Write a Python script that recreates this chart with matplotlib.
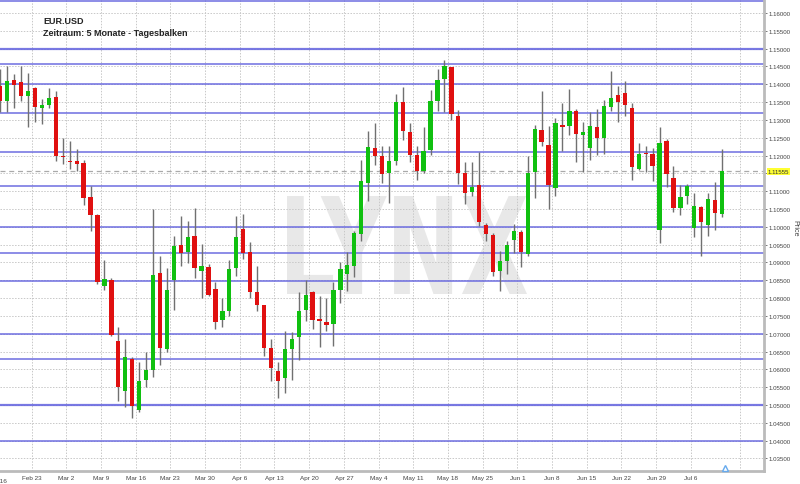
import matplotlib
matplotlib.use('Agg')
import matplotlib.pyplot as plt
from matplotlib.textpath import TextPath
from matplotlib.patches import PathPatch
from matplotlib.font_manager import FontProperties
from matplotlib.transforms import Affine2D
import numpy as np

title = "EUR.USD"
subtitle = "Zeitraum: 5 Monate - Tagesbalken"
week_labels = ["Feb 16", "Feb 23", "Mar 2", "Mar 9", "Mar 16", "Mar 23", "Mar 30", "Apr 6",
               "Apr 13", "Apr 20", "Apr 27", "May 4", "May 11", "May 18", "May 25", "Jun 1",
               "Jun 8", "Jun 15", "Jun 22", "Jun 29", "Jul 6"]

opens = [1.1396, 1.1352, 1.1413, 1.1407, 1.1366, 1.1389, 1.1334, 1.1343, 1.1365, 1.1200,
         1.1185, 1.1185, 1.1178, 1.1084, 1.1033, 1.0833, 1.0851, 1.0680, 1.0540, 1.0629,
         1.0486, 1.0570, 1.0599, 1.0870, 1.0657, 1.0852, 1.0949, 1.0930, 1.0973, 1.0875,
         1.0888, 1.0825, 1.0738, 1.0765, 1.0884, 1.0994, 1.0928, 1.0816, 1.0781, 1.0660,
         1.0595, 1.0575, 1.0657, 1.0690, 1.0767, 1.0818, 1.0741, 1.0732, 1.0727, 1.0824,
         1.0868, 1.0889, 1.0980, 1.1123, 1.1220, 1.1198, 1.1150, 1.1185, 1.1349, 1.1265,
         1.1202, 1.1157, 1.1216, 1.1354, 1.1415, 1.1448, 1.1312, 1.1150, 1.1097, 1.1117,
         1.1005, 1.0977, 1.0877, 1.0905, 1.0964, 1.0986, 1.0924, 1.1153, 1.1272, 1.1230,
         1.1109, 1.1286, 1.1282, 1.1326, 1.1258, 1.1221, 1.1281, 1.1249, 1.1335, 1.1370,
         1.1375, 1.1333, 1.1162, 1.1207, 1.1204, 1.0992, 1.1240, 1.1137, 1.1053, 1.1086,
         1.0997, 1.1056, 1.1006, 1.1075, 1.1036]
highs = [1.1443, 1.1450, 1.1429, 1.1450, 1.1431, 1.1392, 1.1359, 1.1389, 1.1380, 1.1248,
         1.1242, 1.1218, 1.1187, 1.1115, 1.1036, 1.0907, 1.0856, 1.0718, 1.0685, 1.0636,
         1.0620, 1.0650, 1.1050, 1.0919, 1.0884, 1.0973, 1.1029, 1.1015, 1.1053, 1.0952,
         1.0896, 1.0844, 1.0800, 1.0907, 1.1029, 1.1036, 1.0957, 1.0889, 1.0781, 1.0685,
         1.0620, 1.0707, 1.0706, 1.0818, 1.0851, 1.0821, 1.0807, 1.0800, 1.0844, 1.0900,
         1.0930, 1.0989, 1.1188, 1.1268, 1.1291, 1.1226, 1.1226, 1.1373, 1.1391, 1.1291,
         1.1226, 1.1279, 1.1384, 1.1443, 1.1468, 1.1448, 1.1328, 1.1181, 1.1181, 1.1209,
         1.1011, 1.0982, 1.0931, 1.0961, 1.1008, 1.0991, 1.1198, 1.1286, 1.1380, 1.1282,
         1.1305, 1.1347, 1.1387, 1.1331, 1.1293, 1.1321, 1.1331, 1.1356, 1.1436, 1.1396,
         1.1410, 1.1347, 1.1235, 1.1226, 1.1220, 1.1279, 1.1246, 1.1171, 1.1118, 1.1120,
         1.1095, 1.1059, 1.1094, 1.1125, 1.1218]
lows = [1.1322, 1.1323, 1.1333, 1.1354, 1.1279, 1.1295, 1.1288, 1.1333, 1.1184, 1.1176,
        1.1162, 1.1156, 1.1061, 1.0987, 1.0840, 1.0824, 1.0693, 1.0512, 1.0495, 1.0463,
        1.0480, 1.0551, 1.0579, 1.0613, 1.0650, 1.0767, 1.0889, 1.0898, 1.0856, 1.0799,
        1.0806, 1.0713, 1.0718, 1.0749, 1.0863, 1.0910, 1.0800, 1.0765, 1.0638, 1.0568,
        1.0520, 1.0533, 1.0571, 1.0626, 1.0735, 1.0713, 1.0662, 1.0708, 1.0666, 1.0785,
        1.0819, 1.0860, 1.0959, 1.1072, 1.1173, 1.1123, 1.1067, 1.1174, 1.1244, 1.1181,
        1.1131, 1.1150, 1.1202, 1.1326, 1.1323, 1.1300, 1.1120, 1.1064, 1.1087, 1.1003,
        1.0959, 1.0863, 1.0819, 1.0868, 1.0926, 1.0886, 1.0917, 1.1080, 1.1228, 1.1050,
        1.1086, 1.1214, 1.1258, 1.1181, 1.1153, 1.1188, 1.1202, 1.1204, 1.1326, 1.1293,
        1.1310, 1.1132, 1.1159, 1.1153, 1.1129, 1.0955, 1.1111, 1.1042, 1.1033, 1.1064,
        1.0971, 1.0917, 1.0975, 1.0991, 1.1028]
closes = [1.1354, 1.1410, 1.1399, 1.1368, 1.1382, 1.1337, 1.1342, 1.1361, 1.1200, 1.1195,
          1.1181, 1.1176, 1.1080, 1.1033, 1.0846, 1.0854, 1.0696, 1.0550, 1.0636, 1.0498,
          1.0568, 1.0598, 1.0865, 1.0660, 1.0823, 1.0947, 1.0926, 1.0971, 1.0884, 1.0889,
          1.0809, 1.0734, 1.0763, 1.0882, 1.0972, 1.0926, 1.0816, 1.0781, 1.0660, 1.0604,
          1.0568, 1.0657, 1.0685, 1.0763, 1.0809, 1.0739, 1.0737, 1.0725, 1.0824, 1.0882,
          1.0893, 1.0982, 1.1129, 1.1225, 1.1198, 1.1148, 1.1184, 1.1349, 1.1268, 1.1202,
          1.1157, 1.1214, 1.1354, 1.1412, 1.1452, 1.1317, 1.1151, 1.1095, 1.1113, 1.1013,
          1.0980, 1.0874, 1.0905, 1.0949, 1.0987, 1.0928, 1.1150, 1.1274, 1.1239, 1.1118,
          1.1291, 1.1281, 1.1326, 1.1260, 1.1267, 1.1284, 1.1248, 1.1340, 1.1361, 1.1349,
          1.1342, 1.1169, 1.1204, 1.1203, 1.1171, 1.1235, 1.1148, 1.1054, 1.1084, 1.1115,
          1.1058, 1.1013, 1.1078, 1.1038, 1.11555]

support_levels = [1.1634, 1.1500, 1.1457, 1.1400, 1.1319, 1.1211, 1.1115, 1.1000,
                  1.0926, 1.0847, 1.0700, 1.0630, 1.0500, 1.0400]
last_price = 1.11555
y_ticks = [1.035 + 0.005 * k for k in range(26)]

small_font = ['Liberation Sans', 'DejaVu Sans']

fig = plt.figure(figsize=(8, 4.85), dpi=100)
fig.patch.set_facecolor('white')
ax = fig.add_axes([0, 13 / 485, 764 / 800, 472 / 485])
ax.set_facecolor('white')

n = len(opens)
x = np.arange(n)
ax.set_xlim(-0.05, 110.05)
ax.set_ylim(1.03148, 1.16392)

# watermark
fp = FontProperties(family='DejaVu Sans', weight='bold')
tp = TextPath((0, 0), "LYNX", size=100, prop=fp)
ext = tp.get_extents()
bx0, bx1 = 287 / 764, 527 / 764
by0, by1 = (472 - 295) / 472, (472 - 197) / 472
tr = (Affine2D().translate(-ext.x0, -ext.y0)
      .scale((bx1 - bx0) / ext.width, (by1 - by0) / ext.height)
      .translate(bx0, by0)) + ax.transAxes
ax.add_patch(PathPatch(tp, transform=tr, facecolor='#e8e8e8', edgecolor='none', zorder=0))

# grid
for yt in y_ticks:
    ax.axhline(yt, color='#c8c8c8', lw=0.7, ls=(0, (1.5, 1.5)), zorder=1)
week_pos = [5 * k - 0.5 for k in range(len(week_labels))] + [106.6]
for wp in week_pos:
    ax.axvline(wp, color='#c8c8c8', lw=0.7, ls=(0, (1.5, 1.5)), zorder=1)

# support / resistance lines
for lv in support_levels:
    lw = 1.6 if lv in (1.15, 1.05) else 1.2
    ax.axhline(lv, color='#6a6ae0', lw=lw, alpha=0.9, zorder=2)

# last price line
ax.axhline(last_price, color='#aaaaaa', lw=0.9, ls=(0, (4, 3)), zorder=2)

# candles
for i in range(n):
    o, h, l, c = opens[i], highs[i], lows[i], closes[i]
    col = '#10c010' if c >= o else '#e01010'
    ax.vlines(x[i], l, h, color='#707070', lw=1.0, zorder=3)
    body = max(abs(c - o), 0.00012)
    ax.bar(x[i], body, bottom=min(o, c), width=0.62, color=col, edgecolor='none', zorder=4)

# axes styling
ax.yaxis.tick_right()
ax.set_yticks(y_ticks)
ax.set_yticklabels(["" if abs(v - 1.115) < 1e-9 else "%.5f" % v for v in y_ticks])
ax.tick_params(axis='y', labelsize=4.4, colors='#444444', length=2, pad=1.5, width=0.5)
ax.set_xticks([5 * k - 0.5 for k in range(1, len(week_labels))])
ax.set_xticklabels(week_labels[1:])
ax.tick_params(axis='x', labelsize=4.6, colors='#444444', length=0, pad=3)
for lab in ax.get_yticklabels() + ax.get_xticklabels():
    lab.set_family(small_font)
for s in ['top', 'left']:
    ax.spines[s].set_visible(False)
ax.spines['right'].set_color('#bbbbbb')
ax.spines['right'].set_linewidth(2)
ax.spines['bottom'].set_color('#bbbbbb')
ax.spines['bottom'].set_linewidth(2)
ax.text(-0.5, -0.015, week_labels[0], transform=ax.get_xaxis_transform(), ha='center', va='top',
        fontsize=4.6, color='#444444', clip_on=False, family=small_font)

# last price label
ax.text(1.005, last_price, "%.5f" % last_price, transform=ax.get_yaxis_transform(), va='center',
        ha='left', fontsize=4.4, color='#333333', family=small_font,
        bbox=dict(boxstyle='square,pad=0.15', facecolor='#ffff33', edgecolor='none'), clip_on=False)

# price label
fig.text(795 / 800, 1 - 228 / 485, "Price", rotation=270, ha='center', va='center', fontsize=5.2,
         color='#444444', family=small_font)

# marker
ax.plot([104.5], [1.0322], marker='^', ms=5, mfc='white', mec='#66aaee', mew=1.0, clip_on=False, zorder=5)

# titles
fig.text(43 / 800, 1 - 21 / 485, title, fontsize=6.5, fontweight='bold', color='#222222', va='center',
         family=small_font)
fig.text(43 / 800, 1 - 33.5 / 485, subtitle, fontsize=6.5, fontweight='bold', color='#222222', va='center',
         family=small_font)

fig.savefig('out.png', dpi=100)
